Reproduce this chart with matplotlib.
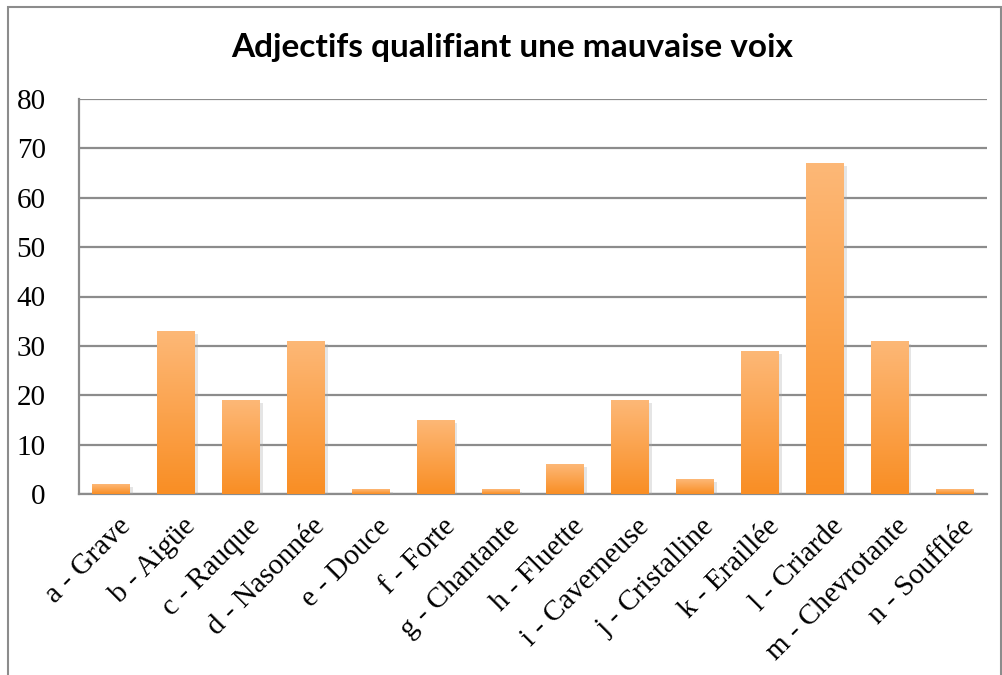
import matplotlib
matplotlib.use("Agg")
import matplotlib.pyplot as plt
import numpy as np
from matplotlib.colors import LinearSegmentedColormap
from matplotlib.patches import Rectangle
import matplotlib.patheffects as pe

categories = ["a - Grave", "b - Aigüe", "c - Rauque", "d - Nasonnée", "e - Douce",
              "f - Forte", "g - Chantante", "h - Fluette", "i - Caverneuse",
              "j - Cristalline", "k - Eraillée", "l - Criarde", "m - Chevrotante",
              "n - Soufflée"]
values = [2, 33, 19, 31, 1, 15, 1, 6, 19, 3, 29, 67, 31, 1]
yticks = [0, 10, 20, 30, 40, 50, 60, 70, 80]
title = "Adjectifs qualifiant une mauvaise voix"

W, H = 1003, 675
fig = plt.figure(figsize=(W / 100, H / 100), dpi=100)
fig.patch.set_facecolor("white")

# outer frame
fig.add_artist(Rectangle((8 / W, -0.05), (W - 10) / W, 1.05 - 7 / H,
                         transform=fig.transFigure, fill=False,
                         edgecolor="#8c8c8c", linewidth=1.5))

ax = fig.add_axes([79 / W, 1 - 494 / H, (987 - 79) / W, (494 - 99) / H])
x = np.arange(len(categories))
bars = ax.bar(x, values, width=0.585, color="#FDA54F", zorder=3,
              path_effects=[pe.SimplePatchShadow(offset=(2, -2), shadow_rgbFace="#aaaaaa", alpha=0.3),
                            pe.Normal()])

cmap = LinearSegmentedColormap.from_list("og", ["#F98E24", "#FDB877"])
grad = np.linspace(0, 1, 256).reshape(-1, 1)
for b in bars:
    x0, y0 = b.get_x(), b.get_y()
    w, h = b.get_width(), b.get_height()
    im = ax.imshow(grad, cmap=cmap, origin="lower", aspect="auto",
                   extent=[x0, x0 + w, y0, y0 + h], zorder=4)
    im.set_clip_path(b)

ax.set_xlim(-0.5, len(categories) - 0.5)
ax.set_ylim(0, 80)
ax.set_yticks(yticks)
ax.yaxis.grid(True, color="#8c8c8c", linewidth=1.6, zorder=0)
ax.set_axisbelow(True)
for s in ["top", "right"]:
    ax.spines[s].set_visible(False)
for s in ["left", "bottom"]:
    ax.spines[s].set_color("#8c8c8c")
    ax.spines[s].set_linewidth(1.6)
ax.tick_params(axis="y", length=0, pad=24, labelsize=21)
ax.tick_params(axis="x", length=0, pad=14, labelsize=21)
for lab in ax.get_yticklabels():
    lab.set_fontfamily("Liberation Serif")
ax.set_xticks(x)
ax.set_xticklabels(categories, rotation=45, ha="right", rotation_mode="anchor",
                   fontfamily="Liberation Serif")
for lab in ax.get_xticklabels():
    lab.set_transform(lab.get_transform() + matplotlib.transforms.ScaledTranslation(6 / 100, 0, fig.dpi_scale_trans))

fig.text(512 / W, 1 - 47 / H, title, ha="center", va="center",
         fontsize=24, fontweight="bold", fontfamily="Lato")

fig.savefig("out.png", dpi=100)
